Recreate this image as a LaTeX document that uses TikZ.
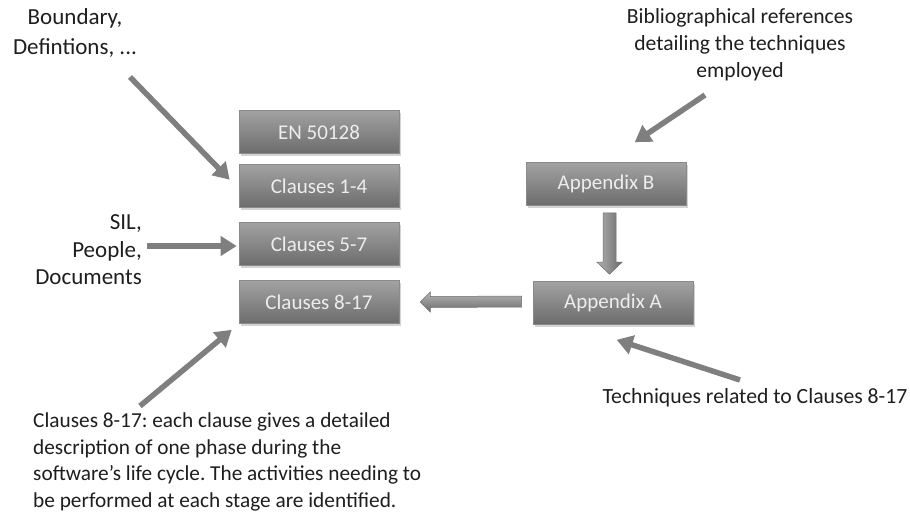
\documentclass[tikz,border=0pt]{standalone}
\usepackage{fontspec}
\setmainfont{Carlito}
\usetikzlibrary{arrows.meta,shadows,calc}
\frenchspacing

\definecolor{boxtop}{HTML}{A2A2A2}
\definecolor{boxbot}{HTML}{6C6C6C}
\definecolor{boxline}{HTML}{8A8A8A}
\definecolor{pointer}{HTML}{7F7F7F}
\definecolor{labeltext}{HTML}{1E1E1E}

\tikzset{
  clausebox/.style={rectangle, minimum width=160pt, minimum height=43pt,
    top color=boxtop, bottom color=boxbot, draw=boxline, line width=0.6pt,
    text=white!93!black, font=\fontsize{21}{24}\selectfont,
    drop shadow={shadow xshift=1.5pt, shadow yshift=-2pt, opacity=0.35}},
  note/.style={inner sep=0pt, text=labeltext},
  pointerarrow/.style={draw=pointer, line width=5.5pt,
    -{Triangle[length=16pt, width=19pt]}},
  blockarrow/.style={top color=boxtop!80!white, bottom color=boxbot,
    draw=boxline!80!black, line width=0.5pt}
}

\begin{document}
\begin{tikzpicture}[x=1pt, y=-1pt]
  \useasboundingbox (0,0) rectangle (910,515);

  % standard column
  \node[clausebox] (en)  at (319,132) {EN 50128};
  \node[clausebox] (c14) at (319,186) {Clauses 1-4};
  \node[clausebox] (c57) at (319,244) {Clauses 5-7};
  \node[clausebox] (c8)  at (319,302) {Clauses 8-17};

  % appendices
  \node[clausebox] (apb) at (606,184) {Appendix B};
  \node[clausebox] (apa) at (613,303) {Appendix A};

  % annotations
  \node[note, align=center, font=\fontsize{23}{30}\selectfont] (tbound) at (75,33)
    {Boundary,\\Defintions, ...};
  \node[note, align=right, anchor=east, font=\fontsize{23}{27.5}\selectfont] (tsil) at (142,250)
    {SIL,\\People,\\Documents};
  \node[note, align=center, font=\fontsize{21.6}{27}\selectfont] (tbib) at (740,45)
    {Bibliographical references\\detailing the techniques\\employed};
  \node[note, font=\fontsize{21.7}{24}\selectfont] (ttech) at (755,398)
    {Techniques related to Clauses 8-17};
  \node[note, align=left, anchor=west, font=\fontsize{21.3}{26.5}\selectfont] (tclause) at (33,462)
    {Clauses 8-17: each clause gives a detailed\\description of one phase during the\\software’s life cycle. The activities needing to\\be performed at each stage are identified.};

  % pointer arrows from the annotations
  \coordinate (bstart) at (130,77);
  \coordinate (sstart) at (147,246);
  \coordinate (cstart) at (140,406);
  \coordinate (bibstart) at (705,95);
  \coordinate (tstart) at (740,380);
  \draw[pointerarrow] (bstart) -- ($(c14.north west)+(-9,15.5)$);
  \draw[pointerarrow] (sstart) -- ($(c57.west)+(-2,2)$);
  \draw[pointerarrow] (cstart) -- ($(c8.south west)+(-7,6)$);
  \draw[pointerarrow] (bibstart) -- ($(apb.north west)+(109,-20)$);
  \draw[pointerarrow] (tstart) -- ($(apa.south west)+(84,15)$);

  % block arrow: Appendix B to Appendix A
  \coordinate (dtop) at ($(apb.south)+(3.5,7)$);
  \coordinate (dtip) at ($(apa.north)+(-3.5,-7)$);
  \shade[left color=boxtop!85!white, right color=boxbot, draw=boxline!80!black, line width=0.5pt]
    ($(dtop)+(-6.5,0)$) -- ($(dtop)+(6.5,0)$) -- ($(dtip)+(6.5,-12)$) -- ($(dtip)+(12.5,-12)$)
    -- (dtip) -- ($(dtip)+(-12.5,-12)$) -- ($(dtip)+(-6.5,-12)$) -- cycle;

  % block arrow: Appendix A to Clauses 8-17
  \coordinate (ltail) at ($(apa.west)+(-11,-1.5)$);
  \coordinate (ltip) at ($(c8.east)+(21,0)$);
  \shade[blockarrow]
    ($(ltail)+(0,-5.5)$) -- ($(ltip)+(10,-5.5)$) -- ($(ltip)+(10,-10)$) -- (ltip)
    -- ($(ltip)+(10,10)$) -- ($(ltip)+(10,5.5)$) -- ($(ltail)+(0,5.5)$) -- cycle;
\end{tikzpicture}
\end{document}
